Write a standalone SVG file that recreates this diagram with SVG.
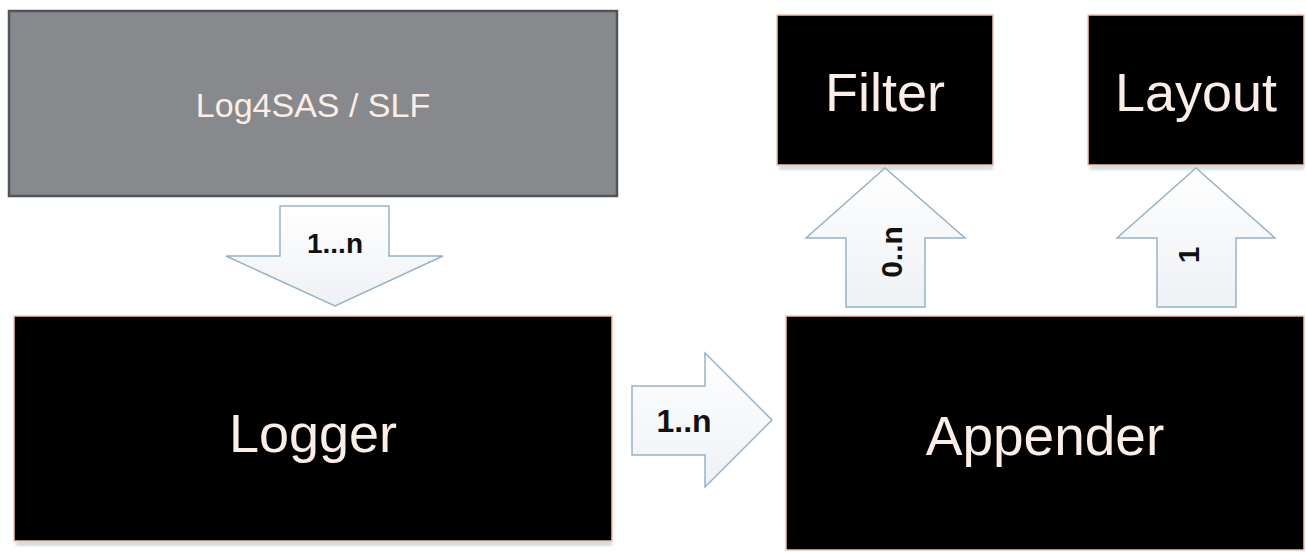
<svg xmlns="http://www.w3.org/2000/svg" width="1306" height="552" viewBox="0 0 1306 552">
  <style>
    .box { fill: #000000; stroke: #f3c2ac; stroke-width: 1.5; }
    .gray { fill: #88898d; stroke: #4f565b; stroke-width: 2.5; }
    .shadow { fill: #aebcc6; opacity: 0.55; }
    .label { font-family: "Liberation Sans", Arial, sans-serif; fill: #fbeee6; text-anchor: middle; }
    .arrow { fill: url(#arrowFill); stroke: #98b3c6; stroke-width: 1.5; stroke-linejoin: miter; }
    .mult { font-family: "Liberation Sans", Arial, sans-serif; font-weight: bold; fill: #111111; text-anchor: middle; }
  </style>
  <defs>
    <linearGradient id="arrowFill" x1="0" y1="0" x2="0" y2="1">
      <stop offset="0" stop-color="#ffffff"/>
      <stop offset="1" stop-color="#eef1f5"/>
    </linearGradient>
    <filter id="soft" x="-5%" y="-5%" width="110%" height="115%">
      <feGaussianBlur stdDeviation="1.5"/>
    </filter>
  </defs>

  <rect width="1306" height="552" fill="#ffffff"/>

  <!-- nodes -->
  <g id="log4sas">
    <rect class="gray" x="9" y="11" width="608" height="185"/>
    <text class="label" x="313" y="117" font-size="34">Log4SAS / SLF</text>
  </g>

  <g id="logger">
    <rect class="shadow" x="16" y="541" width="596" height="5" filter="url(#soft)"/>
    <rect class="box" x="14" y="316" width="598" height="225"/>
    <text class="label" x="313" y="452" font-size="54">Logger</text>
  </g>

  <g id="appender">
    <rect class="box" x="786" y="316" width="518" height="234"/>
    <text class="label" x="1045" y="455" font-size="55">Appender</text>
  </g>

  <g id="filter">
    <rect class="shadow" x="779" y="165" width="214" height="5" filter="url(#soft)"/>
    <rect class="box" x="777" y="15" width="216" height="150"/>
    <text class="label" x="885" y="111" font-size="54">Filter</text>
  </g>

  <g id="layout">
    <rect class="shadow" x="1090" y="165" width="214" height="5" filter="url(#soft)"/>
    <rect class="box" x="1088" y="15" width="216" height="150"/>
    <text class="label" x="1196" y="111" font-size="54">Layout</text>
  </g>

  <!-- connectors: block arrows with multiplicity labels -->
  <g id="connectors">
    <g id="source-to-logger">
      <polygon class="arrow" points="280,206 389,206 389,256 443,256 335,306 226,256 280,256"/>
      <text class="mult" x="335" y="253" font-size="28">1...n</text>
    </g>
    <g id="logger-to-appender">
      <polygon class="arrow" points="632,386 705,386 705,353 772,420 705,487 705,455 632,455"/>
      <text class="mult" x="684" y="432" font-size="32">1..n</text>
    </g>
    <g id="appender-to-filter">
      <polygon class="arrow" points="846,307 846,238 806,238 885,168 965,238 925,238 925,307"/>
      <text class="mult" transform="translate(902,252) rotate(-90)" x="0" y="0" font-size="30">0..n</text>
    </g>
    <g id="appender-to-layout">
      <polygon class="arrow" points="1157,307 1157,238 1117,238 1196,168 1275,238 1236,238 1236,307"/>
      <text class="mult" transform="translate(1199,255) rotate(-90)" x="0" y="0" font-size="30">1</text>
    </g>
  </g>
</svg>
